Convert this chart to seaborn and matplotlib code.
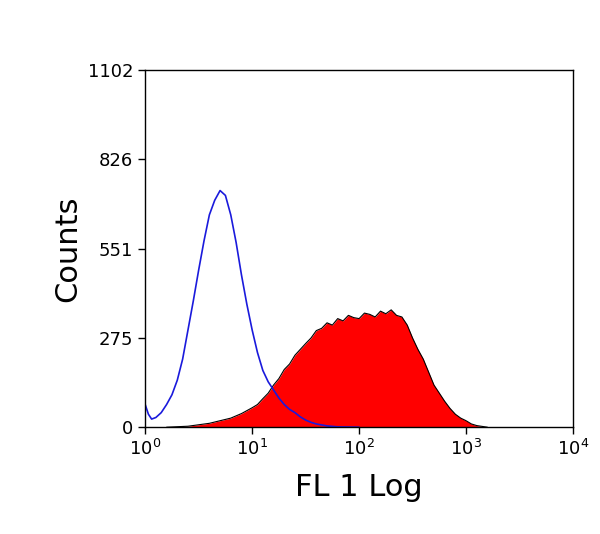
import numpy as np
import pandas as pd
import matplotlib
matplotlib.use("Agg")
import matplotlib.pyplot as plt
import seaborn as sns

# log10 of FL1 channel and counts
blue_log = [0.0, 0.03, 0.06, 0.1, 0.15, 0.2, 0.25, 0.3, 0.35, 0.4, 0.45, 0.5, 0.55, 0.6, 0.65,
            0.7, 0.75, 0.8, 0.85, 0.9, 0.95, 1.0, 1.05, 1.1, 1.15, 1.2, 1.25, 1.3, 1.35, 1.4,
            1.45, 1.5, 1.55, 1.6, 1.7, 1.8, 2.0]
blue_counts = [70, 40, 25, 30, 45, 70, 100, 145, 210, 300, 390, 485, 575, 655, 700,
               730, 715, 655, 570, 470, 380, 300, 230, 175, 140, 115, 90, 70, 55, 45,
               32, 22, 15, 10, 4, 1, 0]

red_log = [0.2, 0.4, 0.6, 0.8, 0.9, 1.0, 1.05, 1.1, 1.15, 1.2, 1.25, 1.3, 1.35, 1.4, 1.45,
           1.5, 1.55, 1.6, 1.65, 1.7, 1.75, 1.8, 1.85, 1.9, 1.95, 2.0, 2.05, 2.1, 2.15, 2.2,
           2.25, 2.3, 2.35, 2.4, 2.45, 2.5, 2.55, 2.6, 2.65, 2.7, 2.75, 2.8, 2.85, 2.9, 2.95,
           3.0, 3.05, 3.1, 3.2]
red_counts = [0, 3, 12, 28, 42, 60, 70, 88, 105, 130, 150, 178, 195, 222, 240,
              258, 275, 298, 305, 322, 315, 335, 328, 345, 338, 335, 352, 348, 340, 358,
              350, 362, 345, 340, 315, 275, 240, 210, 170, 130, 105, 80, 58, 40, 28,
              20, 10, 5, 0]

blue = pd.DataFrame({"fl1": np.power(10.0, blue_log), "counts": blue_counts})
red = pd.DataFrame({"fl1": np.power(10.0, red_log), "counts": red_counts})

sns.set_style("ticks")
fig, ax = plt.subplots(figsize=(6.0, 5.34), dpi=100)
fig.subplots_adjust(left=0.242, right=0.955, top=0.869, bottom=0.2)

ax.fill_between(red["fl1"], red["counts"], color="#ff0000", linewidth=0)
sns.lineplot(data=red, x="fl1", y="counts", color="black", linewidth=0.8, ax=ax)
sns.lineplot(data=blue, x="fl1", y="counts", color="#1a1adc", linewidth=1.2, ax=ax)

ax.set_xscale("log")
ax.set_xlim(1, 1e4)
ax.set_ylim(0, 1102)
ax.set_xticks([1, 10, 100, 1000, 10000])
ax.set_xticklabels([r"$10^{0}$", r"$10^{1}$", r"$10^{2}$", r"$10^{3}$", r"$10^{4}$"])
ax.minorticks_off()
ax.set_yticks([0, 275, 551, 826, 1102])
ax.tick_params(labelsize=13, direction="out", length=5, width=1, colors="black")
ax.set_xlabel("FL 1 Log", fontsize=22, color="black", labelpad=10)
ax.set_ylabel("Counts", fontsize=22, color="black")
for s in ax.spines.values():
    s.set_visible(True)
    s.set_color("black")
    s.set_linewidth(1)

plt.savefig("out.png", dpi=100)
